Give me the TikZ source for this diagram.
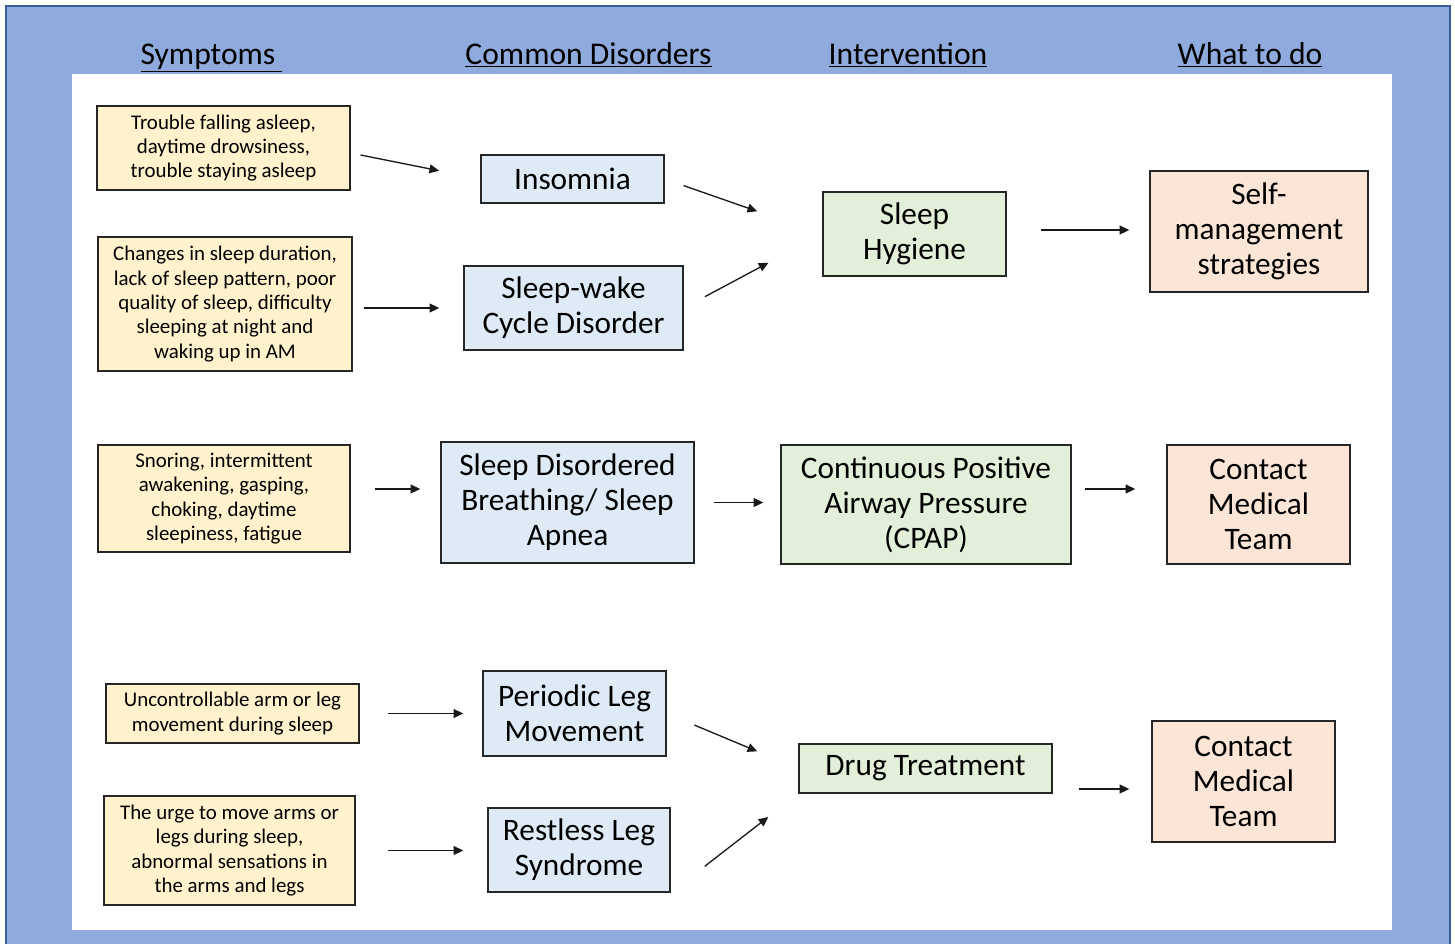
\documentclass[tikz,border=0pt]{standalone}
\usepackage{fontspec}
\setmainfont{Carlito}
\usetikzlibrary{arrows.meta}

\definecolor{bandblue}{HTML}{8FAADC}
\definecolor{edgeblue}{HTML}{3B5E9A}
\definecolor{symfill}{HTML}{FFF2CC}
\definecolor{disfill}{HTML}{DEEBF7}
\definecolor{intfill}{HTML}{E2F0D9}
\definecolor{dofill}{HTML}{FBE5D6}

\tikzset{
  box/.style={draw=black!85, line width=0.8pt, inner sep=0pt, align=center, text=black},
  symptom/.style={box, fill=symfill, font=\fontsize{11.9}{13.9}\selectfont},
  disorder/.style={box, fill=disfill, font=\fontsize{17.8}{20}\selectfont},
  treat/.style={box, fill=intfill, font=\fontsize{17.8}{20}\selectfont},
  todo/.style={box, fill=dofill, font=\fontsize{17.8}{20}\selectfont},
  header/.style={anchor=base, text=black, font=\fontsize{18}{21}\selectfont},
  arr/.style={-{Triangle[length=5.5pt,width=5pt]}, line width=0.75pt, black!90}
}

\begin{document}
\begin{tikzpicture}[x=0.02cm, y=-0.02cm]
\useasboundingbox (0,0) rectangle (1455,944);
\fill[bandblue] (6,6) rectangle (1450,980);
\draw[edgeblue, line width=1.2pt] (6,980) -- (6,6) -- (1450,6) -- (1450,980);
\fill[white] (72,74) rectangle (1392,930);

\node[header] (hsym) at (211.5,64) {\underline{Symptoms\ }};
\node[header] (hdis) at (588.5,64) {\underline{Common Disorders}};
\node[header] (hint) at (908,64) {\underline{Intervention}};
\node[header] (hdo) at (1250,64) {\underline{What to do}};

\node[symptom, minimum width=5.06cm, minimum height=1.68cm] (sym1) at (223.5,148) {Trouble falling asleep,\\daytime drowsiness,\\trouble staying asleep};
\node[symptom, minimum width=5.08cm, minimum height=2.68cm] (sym2) at (225,304) {Changes in sleep duration,\\lack of sleep pattern, poor\\quality of sleep, difficulty\\sleeping at night and\\waking up in AM};
\node[symptom, minimum width=5.04cm, minimum height=2.14cm] (sym3) at (224,498.5) {Snoring, intermittent\\awakening, gasping,\\choking, daytime\\sleepiness, fatigue};
\node[symptom, minimum width=5.06cm, minimum height=1.18cm] (sym4) at (232.5,713.5) {Uncontrollable arm or leg\\movement during sleep};
\node[symptom, minimum width=5.02cm, minimum height=2.18cm] (sym5) at (229.5,850.5) {The urge to move arms or\\legs during sleep,\\abnormal sensations in\\the arms and legs};

\node[disorder, minimum width=3.66cm, minimum height=0.96cm] (insomnia) at (572.5,179) {Insomnia};
\node[disorder, minimum width=4.38cm, minimum height=1.68cm] (cycle) at (573.5,308) {Sleep-wake\\Cycle Disorder};
\node[disorder, minimum width=5.06cm, minimum height=2.42cm] (apnea) at (567.5,502.5) {Sleep Disordered\\Breathing/ Sleep\\Apnea};
\node[disorder, minimum width=3.66cm, minimum height=1.70cm] (periodic) at (574.5,713.5) {Periodic Leg\\Movement};
\node[disorder, minimum width=3.64cm, minimum height=1.68cm] (restless) at (579,850) {Restless Leg\\Syndrome};

\node[treat, minimum width=3.66cm, minimum height=1.68cm] (hygiene) at (914.5,234) {Sleep\\Hygiene};
\node[treat, minimum width=5.80cm, minimum height=2.38cm] (cpap) at (926,504.5) {Continuous Positive\\Airway Pressure\\(CPAP)};
\node[treat, minimum width=5.06cm, minimum height=0.98cm] (drug) at (925.5,768.5) {Drug Treatment};

\node[todo, minimum width=4.36cm, minimum height=2.42cm] (selfman) at (1259,231.5) {Self-\\management\\strategies};
\node[todo, minimum width=3.66cm, minimum height=2.38cm] (contact1) at (1258.5,504.5) {Contact\\Medical\\Team};
\node[todo, minimum width=3.66cm, minimum height=2.42cm] (contact2) at (1243.5,781.5) {Contact\\Medical\\Team};

\draw[arr, shorten <=0.2cm, shorten >=0.84cm] ([yshift=-0.1cm]sym1.east) -- (insomnia.west);
\draw[arr, shorten <=0.22cm, shorten >=0.48cm] ([yshift=-0.08cm]sym2.east) -- ([yshift=-0.08cm]sym2.east -| cycle.west);
\draw[arr, shorten <=0.4cm, shorten >=1.38cm] (insomnia.east) -- (hygiene.west);
\draw[arr, shorten <=0.48cm, shorten >=1.22cm] (cycle.east) -- (hygiene.west);
\draw[arr, shorten <=0.68cm, shorten >=0.4cm] ([yshift=0.08cm]hygiene.east) -- ([yshift=0.08cm]hygiene.east -| selfman.west);
\draw[arr, shorten <=0.48cm, shorten >=0.4cm] ([yshift=0.19cm]sym3.east) -- ([yshift=0.19cm]sym3.east -| apnea.west);
\draw[arr, shorten <=0.38cm, shorten >=0.34cm] (apnea.east) -- (apnea.east -| cpap.west);
\draw[arr, shorten <=0.26cm, shorten >=0.62cm] ([yshift=0.31cm]cpap.east) -- ([yshift=0.31cm]contact1.west);
\draw[arr, shorten <=0.56cm, shorten >=0.38cm] (sym4.east) -- (sym4.east -| periodic.west);
\draw[arr, shorten <=0.64cm, shorten >=0.48cm] (sym5.east) -- (sym5.east -| restless.west);
\draw[arr, shorten <=0.6cm, shorten >=0.89cm] (periodic.east) -- (drug.west);
\draw[arr, shorten <=0.86cm, shorten >=0.76cm] (restless.south east) -- (drug.south west);
\draw[arr, shorten <=0.52cm, shorten >=0.44cm] ([yshift=-0.15cm]contact2.west -| drug.east) -- ([yshift=-0.15cm]contact2.west);
\end{tikzpicture}
\end{document}
